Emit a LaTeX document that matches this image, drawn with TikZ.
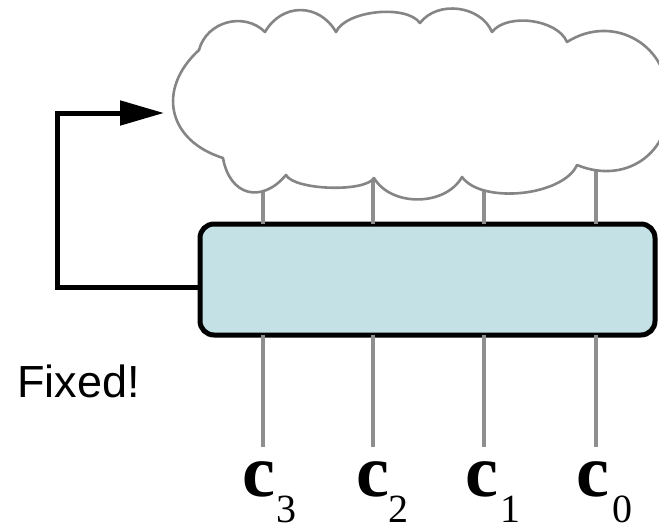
\documentclass[tikz,border=0pt]{standalone}
\usepackage{fontspec}
\newfontfamily\arialf{Liberation Sans}
\newfontfamily\timesf{Liberation Serif}
\usetikzlibrary{arrows.meta}
\definecolor{boxfill}{HTML}{C4E2E5}
\definecolor{wiregray}{HTML}{8E8E8E}
\definecolor{cloudgray}{HTML}{858585}
\tikzset{
  wire/.style={draw=wiregray, line width=3.2pt},
  cloudline/.style={draw=cloudgray, line width=2.6pt, fill=white, line join=round},
  regbox/.style={draw=black, line width=5pt, fill=boxfill, rounded corners=14pt,
    minimum width=455pt, minimum height=111pt, inner sep=0pt, outer sep=0pt},
  feedback/.style={draw=black, line width=5pt, -{Triangle[length=44pt,width=24pt]}},
  clab/.style={font=\timesf\bfseries\fontsize{74}{80}\selectfont, anchor=base, inner sep=0pt},
  sublab/.style={font=\timesf\fontsize{40}{44}\selectfont, anchor=base, inner sep=0pt},
  fixlab/.style={font=\arialf\fontsize{45}{54}\selectfont, anchor=base west, inner sep=0pt}
}
\begin{document}
\begin{tikzpicture}[x=1pt,y=1pt]
\useasboundingbox (0,0) rectangle (659,-527);
\begin{scope}
\clip (0,0) rectangle (659,-527);
% register box
\node[regbox] (reg) at (427.5,-279.5) {};
% wire coordinates
\foreach \n/\x in {3/263,2/373,1/484,0/596}{
  \coordinate (up\n) at (\x,-150);
  \coordinate (dn\n) at (\x,-447);
  \draw[wire] (reg.north -| up\n) -- (up\n);
  \draw[wire] (reg.south -| dn\n) -- (dn\n);
}
% cloud
\draw[cloudline] (199,-50)
  to[bend left=60, looseness=1.1] (265,-32)
  to[bend left=60, looseness=1.22] (336,-32)
  to[bend left=60, looseness=0.71] (420,-23)
  to[bend left=60, looseness=1.02] (492,-32)
  to[bend left=60, looseness=0.83] (567,-42)
  to[bend left=60, looseness=1.18] (668,-95)
  to[bend left=60, looseness=1.23] (577,-165)
  to[bend left=60, looseness=0.75] (462,-177)
  to[bend left=60, looseness=0.98] (374,-178)
  to[bend left=60, looseness=0.5] (286,-175)
  to[bend left=65, looseness=1.5] (223,-158)
  to[bend left=60, looseness=1.34] (199,-50) -- cycle;
% feedback arrow
\coordinate (fbA) at (57,-287);
\coordinate (fbB) at (57,-113);
\coordinate (fbTip) at (164,-113);
\draw[feedback] ([yshift=-7.5pt]reg.west) -- (fbA) -- (fbB) -- (fbTip);
% labels
\node[fixlab] (fixed) at (17,-397) {Fixed!};
\foreach \n/\x/\s in {3/259/286,2/373/398,1/482/510,0/593/622}{
  \node[clab] (c\n) at (\x,-496) {c};
  \node[sublab] (s\n) at (\s,-522) {\n};
}
\end{scope}
\end{tikzpicture}
\end{document}
